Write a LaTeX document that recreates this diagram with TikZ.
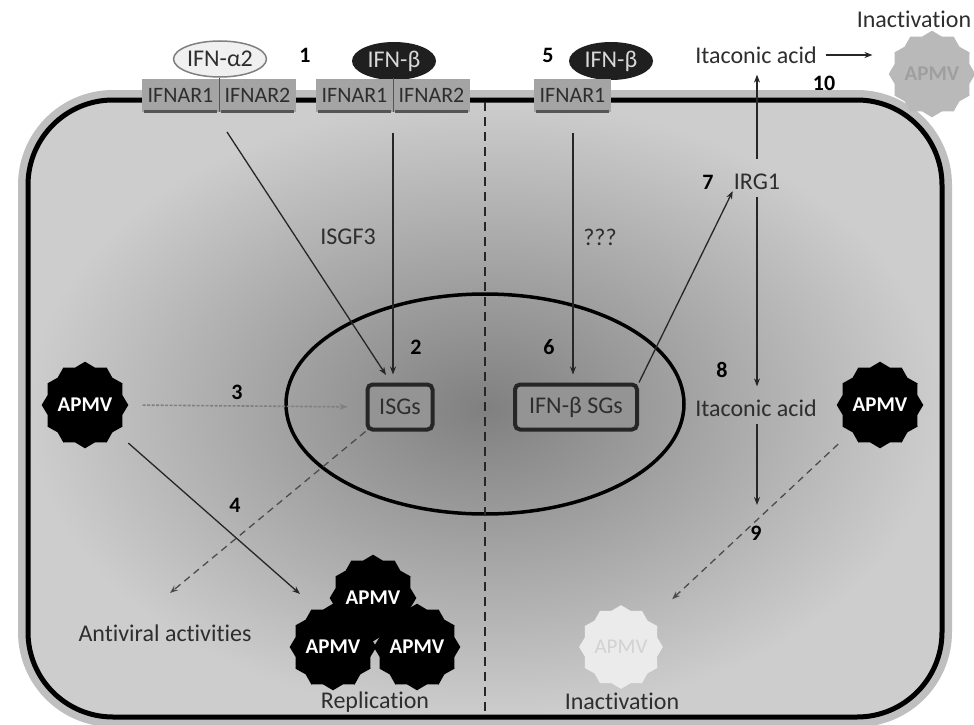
\documentclass[tikz,border=0pt]{standalone}
\usepackage{fontspec}
\setmainfont{Carlito}[Ligatures=NoCommon]
\usetikzlibrary{shapes.geometric,arrows.meta,calc}

\definecolor{txt}{HTML}{2E2E2E}
\definecolor{recfill}{HTML}{A4A4A4}
\definecolor{recline}{HTML}{555555}
\definecolor{cellout}{HTML}{CDCDCD}
\definecolor{cellin}{HTML}{808080}

\tikzset{
  lbl/.style={font=\fontsize{24}{27}\selectfont, text=txt, inner sep=1pt},
  num/.style={font=\fontsize{22}{26}\selectfont\bfseries, text=black, inner sep=1pt},
  rec/.style={lbl, fill=recfill, minimum width=77pt, minimum height=33pt, inner xsep=0pt,
              font=\fontsize{22}{24}\selectfont},
  recul/.style={recline, line width=2.5pt},
  ifnw/.style={ellipse, lbl, fill=white!94!black, draw=gray, line width=1.5pt,
               minimum width=82pt, minimum height=36pt, inner sep=0pt},
  ifnk/.style={ellipse, lbl, fill=black!88, text=white!85!black,
               minimum width=84pt, minimum height=38pt, inner sep=0pt},
  virus/.style={star, star points=12, star point ratio=1.12, minimum size=86pt,
                fill=black, text=white, inner sep=0pt,
                font=\fontsize{21}{24}\selectfont\bfseries},
  gene/.style={lbl, rounded corners=5pt, draw=black!85, line width=4pt,
               fill=black!42, minimum height=45pt, inner xsep=4pt},
  arr/.style={-{Stealth[length=8pt,width=6pt]}, line width=1.3pt, draw=black!85},
  darr/.style={arr, dash pattern=on 7pt off 5pt, draw=black!70},
  farr/.style={arr, dash pattern=on 3pt off 1.5pt, draw=black!50, line width=1.6pt},
}

\begin{document}
\begin{tikzpicture}[x=1pt,y=-1pt]
\useasboundingbox (0,0) rectangle (974,725);

% cell body, soft halo and membrane
\draw[gray!50, line width=8pt, rounded corners=91pt] (22,94) rectangle (948,723);
\shade[inner color=cellin, outer color=cellout, rounded corners=85pt]
  (28,100) rectangle (942,717);
\draw[black, line width=5pt, rounded corners=85pt] (28,100) rectangle (942,717);

% nucleus
\draw[black, line width=3.5pt] (485,404) ellipse [x radius=199, y radius=110];

% divider between the two pathways
\draw[black!85, line width=2.8pt, dash pattern=on 9pt off 6pt] (485,102) -- (485,715);

% ligands
\node[ifnw] (ifna) at (220,59) {IFN-α2};
\node[ifnk] (ifnb1) at (394,61) {IFN-β};
\node[ifnk] (ifnb2) at (611,61) {IFN-β};

% receptors on the membrane
\node[rec] (r1a) at (180.5,95) {IFNAR1};
\node[rec] (r1b) at (257.5,95) {IFNAR2};
\node[rec] (r2a) at (354.5,95) {IFNAR1};
\node[rec] (r2b) at (431.5,95) {IFNAR2};
\node[rec] (r3)  at (572.5,95) {IFNAR1};
\foreach \r in {r1a,r1b,r2a,r2b,r3}{
  \draw[recul] ([xshift=2pt]\r.south west) -- ([xshift=-2pt]\r.south east);
}
\draw[recline, line width=1.2pt] (r1a.north east) -- (r1a.south east);
\draw[recline, line width=1.2pt] (r2a.north east) -- (r2a.south east);

% genes in the nucleus
\node[gene, minimum width=65pt] (isg) at (400,407) {ISGs};
\node[gene, minimum width=122pt] (sgs) at (576,407) {IFN-β SGs};

% viruses
\node[virus] (vL) at (85,405) {APMV};
\node[virus] (vR) at (880,405) {APMV};
\node[virus] (vc1) at (373,598) {APMV};
\node[virus] (vc2) at (333,647) {APMV};
\node[virus] (vc3) at (417,647) {APMV};
\node[virus, fill=gray!55, text=gray!75, minimum size=82pt] (vT) at (932,74) {APMV};
\node[virus, fill=white!92!black, text=gray!35, font=\fontsize{21}{24}\selectfont,
      minimum size=80pt] (vF) at (621,647) {APMV};

% text labels
\node[lbl] (isgf) at (348,237) {ISGF3};
\node[lbl] (unk) at (600,237) {???};
\node[lbl] (irg) at (757,182) {IRG1};
\node[lbl] (ita1) at (756,55) {Itaconic acid};
\node[lbl] (ita2) at (756,408) {Itaconic acid};
\node[lbl] (inT) at (914,19) {Inactivation};
\node[lbl] (inB) at (622,701) {Inactivation};
\node[lbl] (anti) at (165,633) {Antiviral activities};
\node[lbl] (repl) at (375,702) {Replication};

% step numbers
\node[num] at (305,55) {1};
\node[num] at (416,347) {2};
\node[num] at (237,392) {3};
\node[num] at (235,505) {4};
\node[num] at (548,55) {5};
\node[num] at (549,347) {6};
\node[num] at (708,182) {7};
\node[num] at (722,370) {8};
\node[num] at (756,533) {9};
\node[num] at (824,83) {10};

% free ends of connectors
\coordinate (s1) at (227,132);
\coordinate (s2) at (393,133);
\coordinate (s3) at (573,133);
\coordinate (e4) at (300,594);
\coordinate (e4b) at (170,593);
\coordinate (e9) at (757,505);

% signalling connectors
\draw[arr] (s1) -- (386,375);
\draw[arr, shorten >=8pt] (s2) -- (isg.north -| s2);
\draw[arr, shorten >=8pt] (s3) -- (sgs.north -| s3);
\draw[arr] (sgs.north east) -- (irg.south west);
\draw[arr, shorten <=14pt, shorten >=10pt] (irg.north) -- (ita1.south -| irg.north);
\draw[arr, shorten <=6pt, shorten >=12pt] (irg.south) -- (ita2.north -| irg.south);
\draw[arr, shorten <=6pt] (ita2.south -| e9) -- (e9);
\draw[arr, shorten <=8pt, shorten >=16pt] (ita1.east) -- (ita1.east -| vT.west);
\draw[farr, shorten <=14pt, shorten >=18pt] (vL.east) -- (isg.west);
\draw[arr, shorten <=18pt] (vL) -- (e4);
\draw[darr] (isg.south west) -- (e4b);
\draw[darr, shorten <=18pt, shorten >=32pt] (vR) -- (vF);
\end{tikzpicture}
\end{document}
